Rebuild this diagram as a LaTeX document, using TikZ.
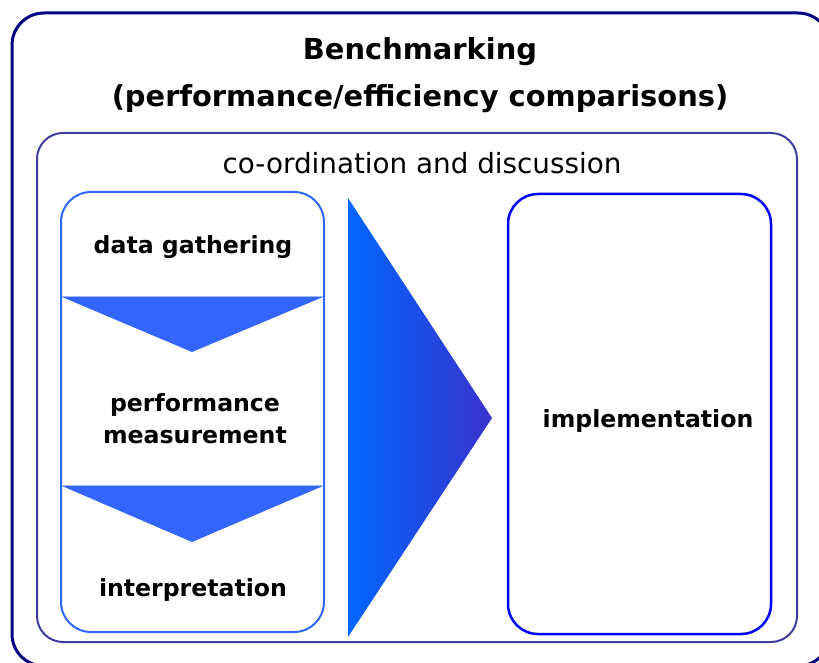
\documentclass[tikz,border=0pt]{standalone}
\usepackage{fontspec}
\setmainfont{DejaVu Sans}
\usepackage{xcolor}
\usetikzlibrary{positioning}

\definecolor{outerblue}{RGB}{0,0,128}
\definecolor{midblue}{RGB}{60,60,158}
\definecolor{stepblue}{RGB}{51,102,255}
\definecolor{pureblue}{RGB}{0,0,255}
\definecolor{arrowleft}{RGB}{0,102,255}
\definecolor{arrowright}{RGB}{58,51,204}

\begin{document}
\begin{tikzpicture}[x=1pt, y=-1pt,
    frame/.style={draw, rounded corners=#1, fill=none, inner sep=0pt},
    steptext/.style={font=\bfseries\fontsize{23.6}{32}\selectfont, text=black, align=center}]
    \useasboundingbox (0,0) rectangle (819,663);
    % boxes
    \node[frame=32pt, draw=outerblue, line width=3pt, minimum width=818pt, minimum height=653pt] (bench) at (421, 339.5) {};
    \node[frame=26pt, draw=midblue, line width=2pt, minimum width=760pt, minimum height=509pt] (coord) at (417, 387.5) {};
    \node[frame=30pt, draw=stepblue, line width=2pt, minimum width=263pt, minimum height=440pt] (steps) at (192.5, 412) {};
    \node[frame=30pt, draw=pureblue, line width=2.5pt, minimum width=263pt, minimum height=440pt] (impl) at (639.5, 414) {};
    % arrows
    \fill[stepblue] (62, 297) -- (192, 352) -- (323, 297) -- cycle;
    \fill[stepblue] (62, 486) -- (192, 542) -- (323, 486) -- cycle;
    \draw[stepblue!45, line width=0.8pt] (62, 296.5) -- (323, 296.5);
    \draw[stepblue!45, line width=0.8pt] (62, 485.5) -- (323, 485.5);
    \shade[left color=arrowleft, right color=arrowright] (348, 198) -- (492, 418) -- (348, 637) -- cycle;
    % texts
    \node[font=\bfseries\fontsize{28.9}{36}\selectfont] (title) at (420, 52) {Benchmarking};
    \node[font=\bfseries\fontsize{28.9}{36}\selectfont] (subtitle) at (420, 99) {(performance/efficiency comparisons)};
    \node[font=\fontsize{27.8}{32}\selectfont] (discuss) at (422, 163) {co-ordination and discussion};
    \node[steptext] (gather) at (193, 247) {data gathering};
    \node[steptext] (measure) at (195, 419) {performance\\measurement};
    \node[steptext] (interp) at (193, 590) {interpretation};
    \node[steptext] (implement) at (648, 421) {implementation};
\end{tikzpicture}
\end{document}
